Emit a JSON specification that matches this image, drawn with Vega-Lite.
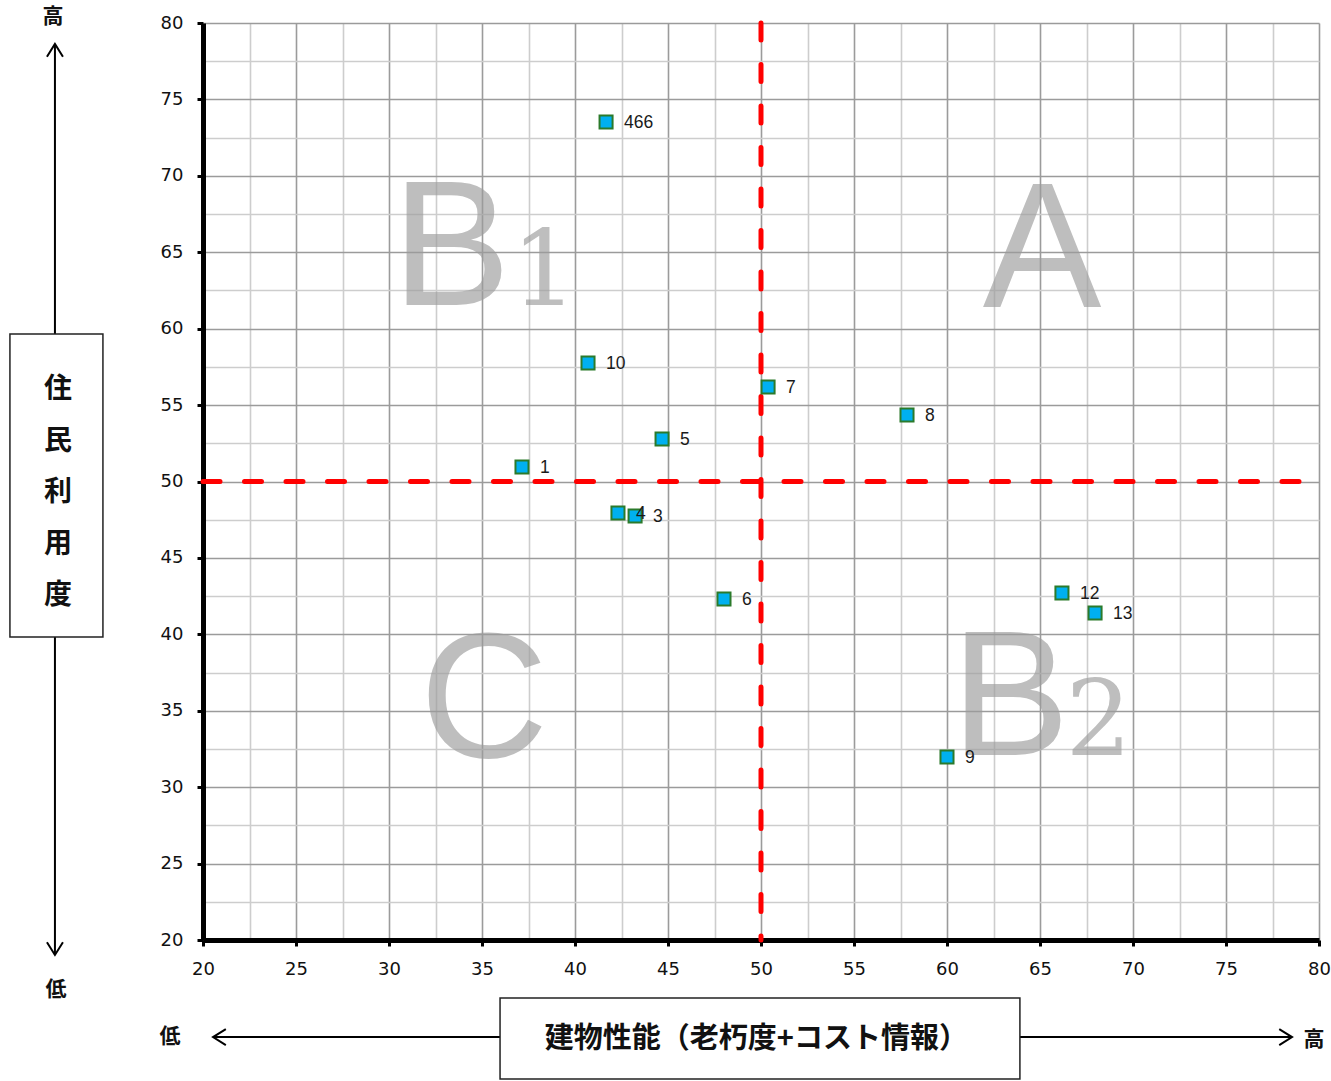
{
  "$schema": "https://vega.github.io/schema/vega-lite/v6.json",
  "width": 1116,
  "height": 917,
  "autosize": {"type": "none"},
  "padding": {"left": 203, "top": 23, "right": 12, "bottom": 141},
  "background": "white",
  "config": {"view": {"stroke": null}},
  "datasets": {
    "points": [
      {"x": 41.67, "y": 73.52, "label": "466"},
      {"x": 40.70, "y": 57.75, "label": "10"},
      {"x": 50.38, "y": 56.18, "label": "7"},
      {"x": 57.85, "y": 54.35, "label": "8"},
      {"x": 44.68, "y": 52.78, "label": "5"},
      {"x": 37.15, "y": 50.95, "label": "1"},
      {"x": 42.31, "y": 47.94, "label": "4"},
      {"x": 43.23, "y": 47.74, "label": "3"},
      {"x": 48.01, "y": 42.31, "label": "6"},
      {"x": 66.18, "y": 42.70, "label": "12"},
      {"x": 67.96, "y": 41.40, "label": "13"},
      {"x": 60.00, "y": 31.97, "label": "9"}
    ],
    "letters": [
      {"x": 33.35, "y": 61.55, "t": "B"},
      {"x": 65.11, "y": 61.40, "t": "A"},
      {"x": 35.11, "y": 31.95, "t": "C"},
      {"x": 63.40, "y": 32.10, "t": "B"}
    ],
    "digits": [
      {"x": 38.35, "y": 61.55, "t": "1"},
      {"x": 68.15, "y": 32.10, "t": "2"}
    ],
    "quadlines": [
      {"x": 50, "y": 80, "x2": 50, "y2": 20},
      {"x": 20, "y": 50, "x2": 80, "y2": 50}
    ],
    "shafts": [
      {"x": 12.04, "y": 59.65, "x2": 12.04, "y2": 78.63},
      {"x": 12.04, "y": 39.83, "x2": 12.04, "y2": 19.02},
      {"x": 35.97, "y": 13.65, "x2": 20.54, "y2": 13.65},
      {"x": 63.92, "y": 13.65, "x2": 78.55, "y2": 13.65}
    ],
    "heads": [
      {"x": 12.04, "y": 78.63, "angle": 0},
      {"x": 12.04, "y": 19.02, "angle": 180},
      {"x": 20.54, "y": 13.65, "angle": 270},
      {"x": 78.55, "y": 13.65, "angle": 90}
    ],
    "boxes": [
      {"x": 9.62, "y": 59.65, "x2": 14.62, "y2": 39.83},
      {"x": 35.97, "y": 16.20, "x2": 63.92, "y2": 10.90}
    ],
    "notes": [
      {"x": 11.94, "y": 80.42, "t": "高", "size": 21},
      {"x": 12.10, "y": 16.73, "t": "低", "size": 21},
      {"x": 18.23, "y": 13.65, "t": "低", "size": 21},
      {"x": 79.73, "y": 13.46, "t": "高", "size": 21},
      {"x": 12.20, "y": 55.99, "t": "住", "size": 28},
      {"x": 12.20, "y": 52.59, "t": "民", "size": 28},
      {"x": 12.20, "y": 49.25, "t": "利", "size": 28},
      {"x": 12.20, "y": 45.84, "t": "用", "size": 28},
      {"x": 12.20, "y": 42.51, "t": "度", "size": 28},
      {"x": 49.75, "y": 13.52, "t": "建物性能（老朽度+コスト情報）", "size": 29}
    ]
  },
  "encoding": {
    "x": {
      "field": "x", "type": "quantitative", "title": null,
      "scale": {"domain": [20, 80], "nice": false, "zero": false},
      "axis": {
        "values": [20, 22.5, 25, 27.5, 30, 32.5, 35, 37.5, 40, 42.5, 45, 47.5, 50, 52.5, 55, 57.5, 60, 62.5, 65, 67.5, 70, 72.5, 75, 77.5, 80],
        "labelExpr": "datum.value % 5 === 0 ? datum.label : ''",
        "grid": true,
        "gridColor": {"condition": {"test": "datum.value % 5 === 0", "value": "#9b9b9b"}, "value": "#cdcdcd"},
        "gridWidth": 1.6,
        "gridOpacity": 1,
        "domainColor": "#000000",
        "domainWidth": 5,
        "tickColor": "#000000",
        "tickWidth": 3,
        "tickSize": 6,
        "tickOpacity": {"condition": {"test": "datum.value % 5 === 0", "value": 1}, "value": 0},
        "labelFont": "DejaVu Sans",
        "labelFontSize": 18,
        "labelColor": "#111111",
        "labelPadding": 14,
        "labelFlush": false,
        "labelOverlap": false,
        "labelBound": false,
        "title": null
      }
    },
    "y": {
      "field": "y", "type": "quantitative", "title": null,
      "scale": {"domain": [20, 80], "nice": false, "zero": false},
      "axis": {
        "values": [20, 22.5, 25, 27.5, 30, 32.5, 35, 37.5, 40, 42.5, 45, 47.5, 50, 52.5, 55, 57.5, 60, 62.5, 65, 67.5, 70, 72.5, 75, 77.5, 80],
        "labelExpr": "datum.value % 5 === 0 ? datum.label : ''",
        "grid": true,
        "gridColor": {"condition": {"test": "datum.value % 5 === 0", "value": "#9b9b9b"}, "value": "#cdcdcd"},
        "gridWidth": 1.6,
        "gridOpacity": 1,
        "domainColor": "#000000",
        "domainWidth": 5,
        "tickColor": "#000000",
        "tickWidth": 3,
        "tickSize": 6,
        "tickOpacity": {"condition": {"test": "datum.value % 5 === 0", "value": 1}, "value": 0},
        "labelFont": "DejaVu Sans",
        "labelFontSize": 18,
        "labelColor": "#111111",
        "labelPadding": 14,
        "labelFlush": false,
        "labelOverlap": false,
        "labelBound": false,
        "title": null
      }
    }
  },
  "layer": [
    {
      "data": {"name": "letters"},
      "mark": {"type": "text", "font": "Liberation Sans", "fontSize": 178, "align": "center", "baseline": "alphabetic", "color": "#9c9c9c", "opacity": 0.65},
      "encoding": {"text": {"field": "t"}}
    },
    {
      "data": {"name": "digits"},
      "mark": {"type": "text", "font": "DejaVu Serif", "fontSize": 104, "align": "center", "baseline": "alphabetic", "color": "#9c9c9c", "opacity": 0.65},
      "encoding": {"text": {"field": "t"}}
    },
    {
      "data": {"name": "quadlines"},
      "mark": {"type": "rule", "color": "#ff0000", "strokeWidth": 5, "strokeDash": [17, 24.5], "strokeCap": "round"},
      "encoding": {
        "x2": {"field": "x2"},
        "y2": {"field": "y2"}
      }
    },
    {
      "data": {"name": "points"},
      "mark": {"type": "point", "shape": "square", "filled": true, "fill": "#00b0f0", "stroke": "#2b7a2b", "strokeWidth": 2, "size": 170, "opacity": 1}
    },
    {
      "data": {"name": "points"},
      "mark": {"type": "text", "font": "Liberation Sans", "fontSize": 17.5, "align": "left", "baseline": "middle", "dx": 18, "dy": 1, "color": "#1a1a1a"},
      "encoding": {"text": {"field": "label"}}
    },
    {
      "data": {"name": "shafts"},
      "mark": {"type": "rule", "color": "#000000", "strokeWidth": 2},
      "encoding": {
        "x2": {"field": "x2"},
        "y2": {"field": "y2"}
      }
    },
    {
      "data": {"name": "heads"},
      "mark": {"type": "point", "shape": "M-1,1.6L0,0L1,1.6", "filled": false, "color": "#000000", "strokeWidth": 2, "size": 256, "opacity": 1},
      "encoding": {
        "angle": {"field": "angle", "type": "quantitative", "scale": null}
      }
    },
    {
      "data": {"name": "boxes"},
      "mark": {"type": "rect", "fill": "#ffffff", "stroke": "#222222", "strokeWidth": 1.5},
      "encoding": {
        "x2": {"field": "x2"},
        "y2": {"field": "y2"}
      }
    },
    {
      "data": {"name": "notes"},
      "mark": {"type": "text", "font": "Noto Sans CJK JP", "fontWeight": "bold", "align": "center", "baseline": "middle", "color": "#111111"},
      "encoding": {
        "text": {"field": "t"},
        "size": {"field": "size", "type": "quantitative", "scale": null}
      }
    }
  ]
}
